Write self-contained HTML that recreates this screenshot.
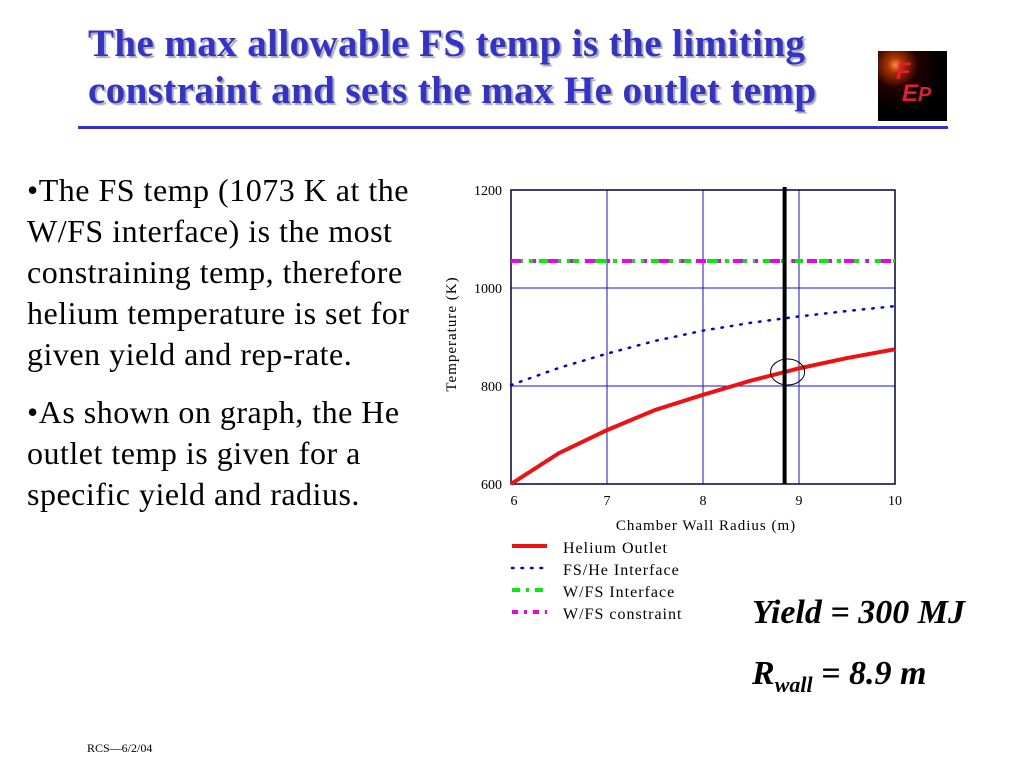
<!DOCTYPE html>
<html><head><meta charset="utf-8"><style>
body{margin:0;width:1024px;height:768px;background:#fff;position:relative;overflow:hidden;font-family:"Liberation Serif",serif}
.title{position:absolute;left:88px;top:20px;color:#3333cc;font-weight:bold;font-size:39px;letter-spacing:0.4px;line-height:47px;text-shadow:2px 2px 1px #aaa;white-space:nowrap}
.rule{position:absolute;left:78px;top:126px;width:870px;height:3px;background:#3333cc}
.bul{position:absolute;left:27px;font-size:32px;letter-spacing:0.5px;line-height:41px;color:#000;white-space:nowrap}
.big{position:absolute;font-size:34px;font-weight:bold;font-style:italic;white-space:nowrap}
</style></head><body>
<div class="title">The max allowable FS temp is the limiting<br>constraint and sets the max He outlet temp</div>
<div style="position:absolute;left:878px;top:51px;width:69px;height:70px;background:radial-gradient(circle at 25% 20%,#f84 0,#a30 10%,#200 30%,#000 60%);color:#e02030;font:italic bold 24px 'Liberation Sans',sans-serif;line-height:22px;padding:10px 0 0 18px;box-sizing:border-box">F<br><span style="margin-left:6px">E</span><span style="font-size:20px">P</span></div>
<div class="rule"></div>
<div class="bul" style="top:170px">•The FS temp (1073 K at the<br>W/FS interface) is the most<br>constraining temp, therefore<br>helium temperature is set for<br>given yield and rep-rate.</div>
<div class="bul" style="top:392px">•As shown on graph, the He<br>outlet temp is given for a<br>specific yield and radius.</div>
<div class="big" style="left:752px;top:594px">Yield = 300 MJ</div>
<div class="big" style="left:752px;top:655px">R<sub style="font-size:22px">wall</sub> = 8.9 m</div>
<div style="position:absolute;left:87px;top:741px;font-size:12px">RCS—6/2/04</div>
<svg id="c" width="1024" height="768" style="position:absolute;left:0;top:0"></svg>
<script>
const xs=[6,6.5,7,7.5,8,8.5,9,9.5,10];
const helium=[600,663,710,751,782,811,836,857,875];
const fsHe=[802,837,866,892,913,929,942,953,963];
const wfs=[1055,1055,1055,1055,1055,1055,1055,1055,1055];
const cons=[1055,1055,1055,1055,1055,1055,1055,1055,1055];
const xTicks=[6,7,8,9,10];
const yTicks=[600,800,1000,1200];
const rwall=8.85;
const L=511,R=895,T=190,B=484;
const X=v=>L+(v-6)/4*(R-L),Y=v=>B-(v-600)/600*(B-T);
const s=document.getElementById('c');const NS='http://www.w3.org/2000/svg';
function mk(t,a,p){const e=document.createElementNS(NS,t);for(const k in a)e.setAttribute(k,a[k]);(p||s).appendChild(e);return e}
xTicks.forEach(v=>{const g=mk('line',{x1:X(v),x2:X(v),y1:T,y2:B,stroke:'#1010e0','stroke-width':1});

const t=mk('text',{x:X(v)+(v==6?3:0),y:B+21,'text-anchor':'middle','font-size':14,'font-family':'Liberation Serif'});t.textContent=v;
});
yTicks.forEach(v=>{const g=mk('line',{x1:L,x2:R,y1:Y(v),y2:Y(v),stroke:'#1010e0','stroke-width':1});

const t=mk('text',{x:L-9,y:Y(v)+5,'text-anchor':'end','font-size':14,'font-family':'Liberation Serif'});t.textContent=v;
});
const fr=mk('rect',{x:L,y:T,width:R-L,height:B-T,fill:'none',stroke:'#000040','stroke-width':1.5});

function pts(a){return xs.map((x,i)=>X(x)+','+Y(a[i])).join(' ')}
let p=mk('polyline',{points:pts(wfs),fill:'none',stroke:'#00ee00','stroke-width':4,'stroke-dasharray':'12 6 4 6'});

p=mk('polyline',{points:pts(cons),fill:'none',stroke:'#ee00ee','stroke-width':4,'stroke-dasharray':'10 12 3 12'});

p=mk('polyline',{points:pts(fsHe),fill:'none',stroke:'#0000cc','stroke-width':2.5,'stroke-dasharray':'1.5 8','stroke-linecap':'round'});

p=mk('polyline',{points:pts(helium),fill:'none',stroke:'#ee1111','stroke-width':4});

p=mk('line',{x1:X(rwall),x2:X(rwall),y1:T-3,y2:B,stroke:'#000','stroke-width':4});

p=mk('ellipse',{cx:X(rwall)+3,cy:372,rx:17,ry:13,fill:'none',stroke:'#000','stroke-width':1});

let t=mk('text',{x:706,y:530,'text-anchor':'middle','font-size':15,'letter-spacing':1,'font-family':'Liberation Serif'});t.textContent='Chamber Wall Radius (m)';

t=mk('text',{x:456,y:334,'text-anchor':'middle','font-size':15,'letter-spacing':1,'font-family':'Liberation Serif',transform:'rotate(-90 456 334)'});t.textContent='Temperature (K)';

const leg=[['Helium Outlet','#ee1111','none',4],['FS/He Interface','#0000cc','1.5 8',2.5],['W/FS Interface','#00ee00','8 6 3 6',4],['W/FS constraint','#ee00ee','6 6 3 6',4]];
leg.forEach((l,i)=>{const y=546+i*22;
const ln=mk('line',{x1:512,x2:547,y1:y,y2:y,stroke:l[1],'stroke-width':l[3],'stroke-dasharray':l[2],'stroke-linecap':l[2]=='1.5 8'?'round':'butt'});

const tx=mk('text',{x:563,y:y+7,'font-size':16,'letter-spacing':1,'font-family':'Liberation Serif'});tx.textContent=l[0];
});
</script>
</body></html>
